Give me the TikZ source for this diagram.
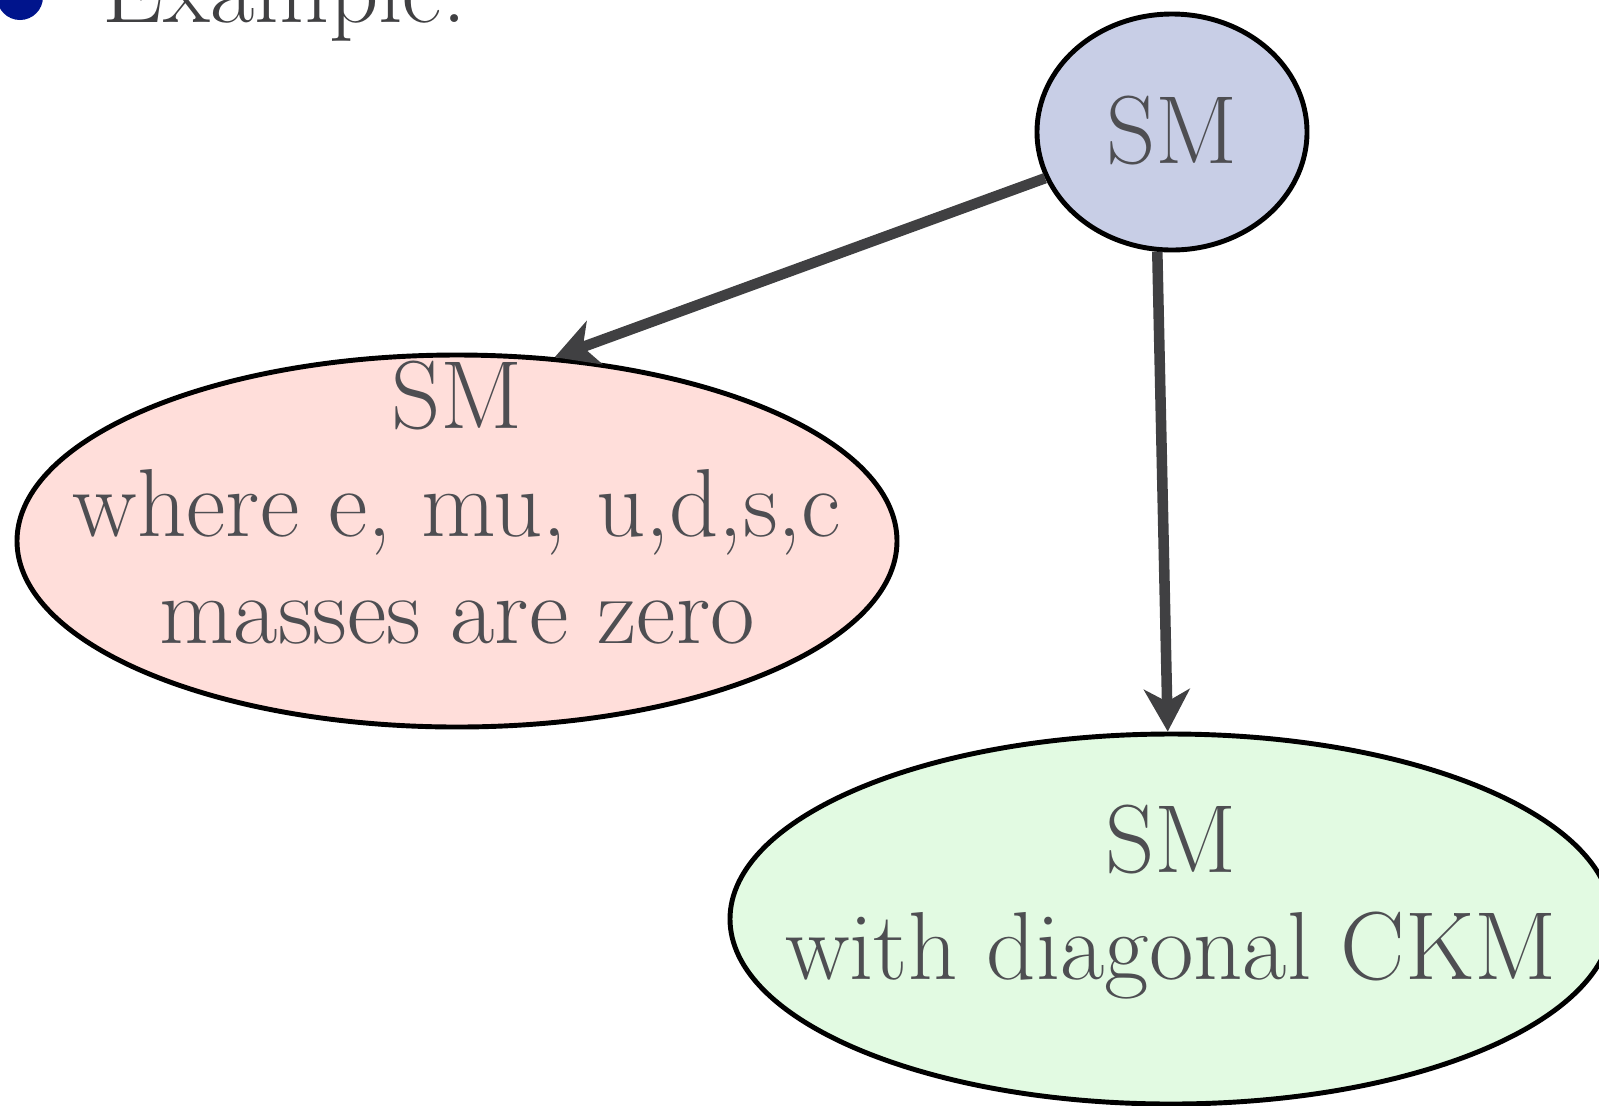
\documentclass[tikz,border=0pt]{standalone}
\definecolor{smblue}{RGB}{200,206,230}
\definecolor{smpink}{RGB}{255,222,218}
\definecolor{smgreen}{RGB}{226,250,226}
\definecolor{textgray}{RGB}{78,78,82}
\definecolor{arrowgray}{RGB}{64,64,66}
\definecolor{bulletblue}{RGB}{0,20,140}
\usepackage{tikz}
\usetikzlibrary{shapes.geometric,arrows.meta,positioning,calc}

\begin{document}
\begin{tikzpicture}[
    model/.style={ellipse, draw=black, line width=1.4pt, inner sep=0pt},
    modeltext/.style={text=textgray, align=center, inner sep=0pt,
        font=\fontsize{27.5}{30.6}\selectfont},
    flow/.style={arrowgray, line width=3pt,
        -{Stealth[length=12pt, width=13pt, inset=3.5pt]}}
]
    \useasboundingbox (0,0) rectangle (15.99,-11.05);
    \clip (0,0) rectangle (15.99,-11.05);

    % Bullet line
    \fill[bulletblue] (0.20,0.03) circle (0.23);
    \node[anchor=base west, text=arrowgray, inner sep=0pt,
        font=\fontsize{27.5}{30}\selectfont] (title) at (1.02,-0.22) {Example:};

    % Models
    \node[model, fill=smblue, minimum width=2.70cm, minimum height=2.36cm]
        (sm) at (11.72,-1.32) {};
    \node[modeltext] (smtext) at ($(sm)+(0,0.02)$) {SM};
    \node[model, fill=smpink, minimum width=8.80cm, minimum height=3.72cm]
        (smzero) at (4.57,-5.41) {};
    \node[modeltext] (smzerotext) at ($(smzero)+(0,0.38)$)
        {SM\\where e, mu, u,d,s,c\\masses are zero};
    \node[model, fill=smgreen, minimum width=8.82cm, minimum height=3.70cm]
        (smckm) at (11.71,-9.19) {};
    \node[modeltext] (smckmtext) at ($(smckm)+(0,0.17)$)
        {SM\\with diagonal CKM};

    % Arrows
    \draw[flow] (sm.200) -- (smzero.62);
    \draw[flow] (sm.263) -- (smckm.91);
\end{tikzpicture}
\end{document}
